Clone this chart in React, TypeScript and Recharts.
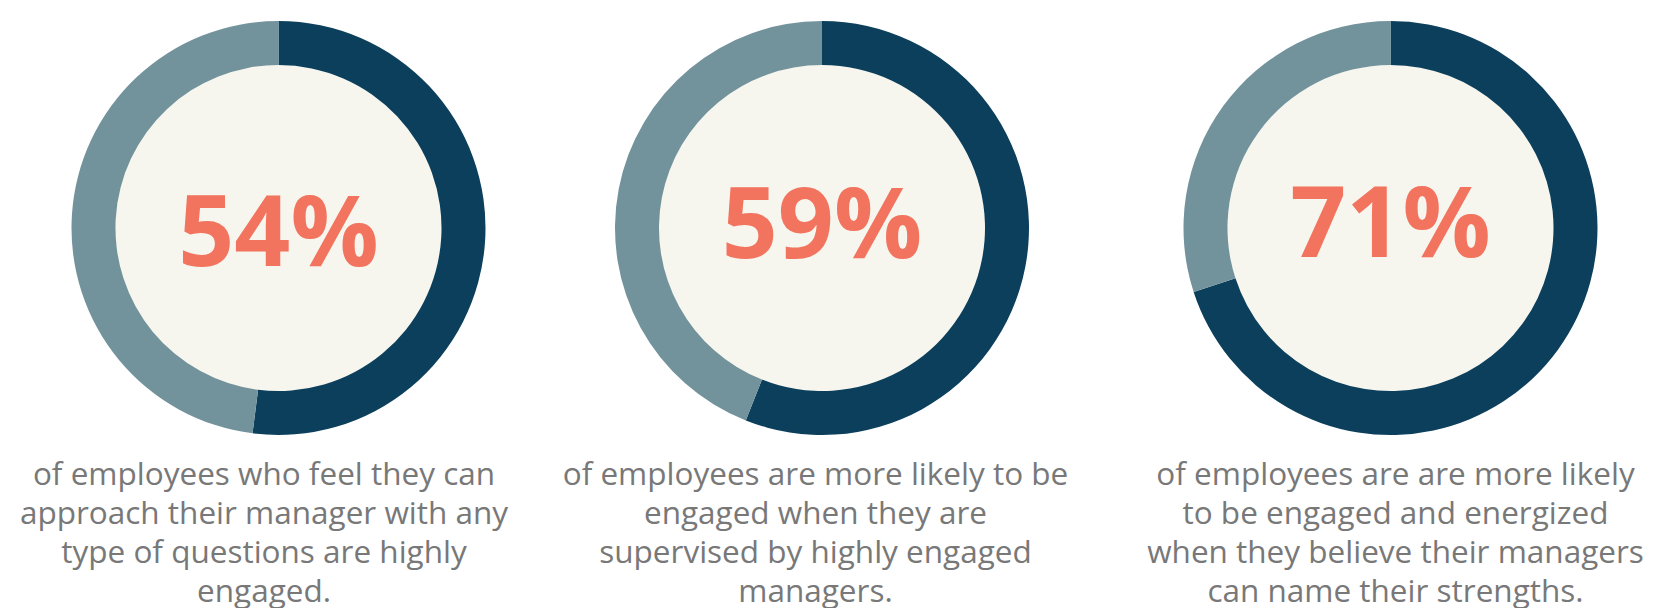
import { PieChart, Pie, Cell } from 'recharts';

// share of the ring drawn in dark (read from the arcs), and the printed figures
const panels = ['approach', 'supervised', 'strengths'];
const engagedShare = [52, 56, 70];
const shareLabels = ['54%', '59%', '71%'];
const captions = [
  ['of employees who feel they can', 'approach their manager with any', 'type of questions are highly', 'engaged.'],
  ['of employees are more likely to be', 'engaged when they are', 'supervised by highly engaged', 'managers.'],
  ['of employees are are more likely', 'to be engaged and energized', 'when they believe their managers', 'can name their strengths.'],
];

const W = 1653;
const H = 608;
const CX = [278.5, 822, 1390.5];
const CY = 228;
const OUTER = 207;
const INNER = 163;
const LABEL_Y = [230, 222, 221];
const CAPTION_X = [264, 815.5, 1395.5];

const DARK = '#0B3F5C';
const LIGHT = '#72939C';
const CREAM = '#F7F6EE';
const CORAL = '#F2745F';

export default function App() {
  return (
    <div style={{ position: 'absolute', left: 0, top: 0, width: W, height: H, background: '#fff', fontFamily: '"Open Sans", sans-serif' }}>
      <PieChart width={W} height={H} margin={{ top: 0, right: 0, bottom: 0, left: 0 }}>
        {panels.map((p, i) => (
          <Pie
            key={p + '-disk'}
            data={[{ name: p, value: 1 }]}
            dataKey="value"
            cx={CX[i]}
            cy={CY}
            innerRadius={0}
            outerRadius={INNER}
            fill={CREAM}
            stroke="none"
            isAnimationActive={false}
          />
        ))}
        {panels.map((p, i) => (
          <Pie
            key={p}
            data={[
              { name: 'engaged', value: engagedShare[i] },
              { name: 'other', value: 100 - engagedShare[i] },
            ]}
            dataKey="value"
            cx={CX[i]}
            cy={CY}
            innerRadius={INNER}
            outerRadius={OUTER}
            startAngle={90}
            endAngle={-270}
            stroke="none"
            isAnimationActive={false}
          >
            <Cell fill={DARK} />
            <Cell fill={LIGHT} />
          </Pie>
        ))}
      </PieChart>

      {shareLabels.map((t, i) => (
        <div
          key={t}
          style={{
            position: 'absolute',
            left: CX[i] - 200,
            width: 400,
            top: LABEL_Y[i] - 51.5,
            textAlign: 'center',
            fontSize: 98,
            lineHeight: 1,
            fontWeight: 700,
            color: CORAL,
          }}
        >
          {t}
        </div>
      ))}

      {captions.map((lines, i) => (
        <div
          key={i}
          style={{
            position: 'absolute',
            left: CAPTION_X[i] - 300,
            width: 600,
            top: 453,
            textAlign: 'center',
            fontSize: 31.5,
            lineHeight: '39px',
            color: '#787878',
            whiteSpace: 'nowrap',
          }}
        >
          {lines.map((l) => (
            <div key={l}>{l}</div>
          ))}
        </div>
      ))}
    </div>
  );
}
